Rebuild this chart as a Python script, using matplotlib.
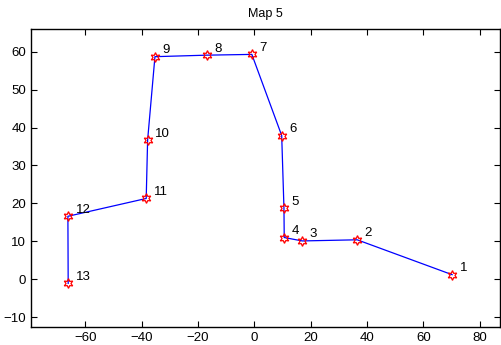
import matplotlib
matplotlib.use("Agg")
import matplotlib.pyplot as plt

plt.rcParams['font.family'] = ['Liberation Sans', 'DejaVu Sans']

labels = ['1', '2', '3', '4', '5', '6', '7', '8', '9', '10', '11', '12', '13']
xs = [70.2, 36.5, 17.0, 10.6, 10.5, 9.7, -0.9, -16.9, -35.3, -37.9, -38.4, -66.2, -66.1]
ys = [1.2, 10.4, 10.1, 11.0, 18.8, 37.9, 59.3, 59.1, 58.7, 36.7, 21.3, 16.6, -1.1]

fig = plt.figure(figsize=(5.02, 3.45), dpi=100)
ax = fig.add_axes([31 / 502, 1 - 327 / 345, 469 / 502, 298 / 345])

ax.plot(xs, ys, color='blue', lw=0.9)
ax.plot(xs, ys, ls='none', marker=(6, 1, 0), ms=7, mfc='none', mec='red', mew=0.9)
for x, y, t in zip(xs, ys, labels):
    ax.text(x + 2.7, y + 1.7, t, fontsize=9.5, va='center', ha='left')

ax.set_xlim(-79.3, 87.2)
ax.set_ylim(-12.6, 66)
ax.set_xticks(range(-60, 81, 20))
ax.set_yticks(range(-10, 61, 10))
ax.set_xticklabels(['\u221260', '\u221240', '\u221220', '0', '20', '40', '60', '80'])
ax.set_yticklabels(['\u221210', '0', '10', '20', '30', '40', '50', '60'])
ax.tick_params(direction='in', top=True, right=True, labelsize=9.5, length=4, width=0.8)
for s in ax.spines.values():
    s.set_linewidth(1.0)
ax.set_title('Map 5', fontsize=9, pad=9)

fig.savefig('out.png', dpi=100)
